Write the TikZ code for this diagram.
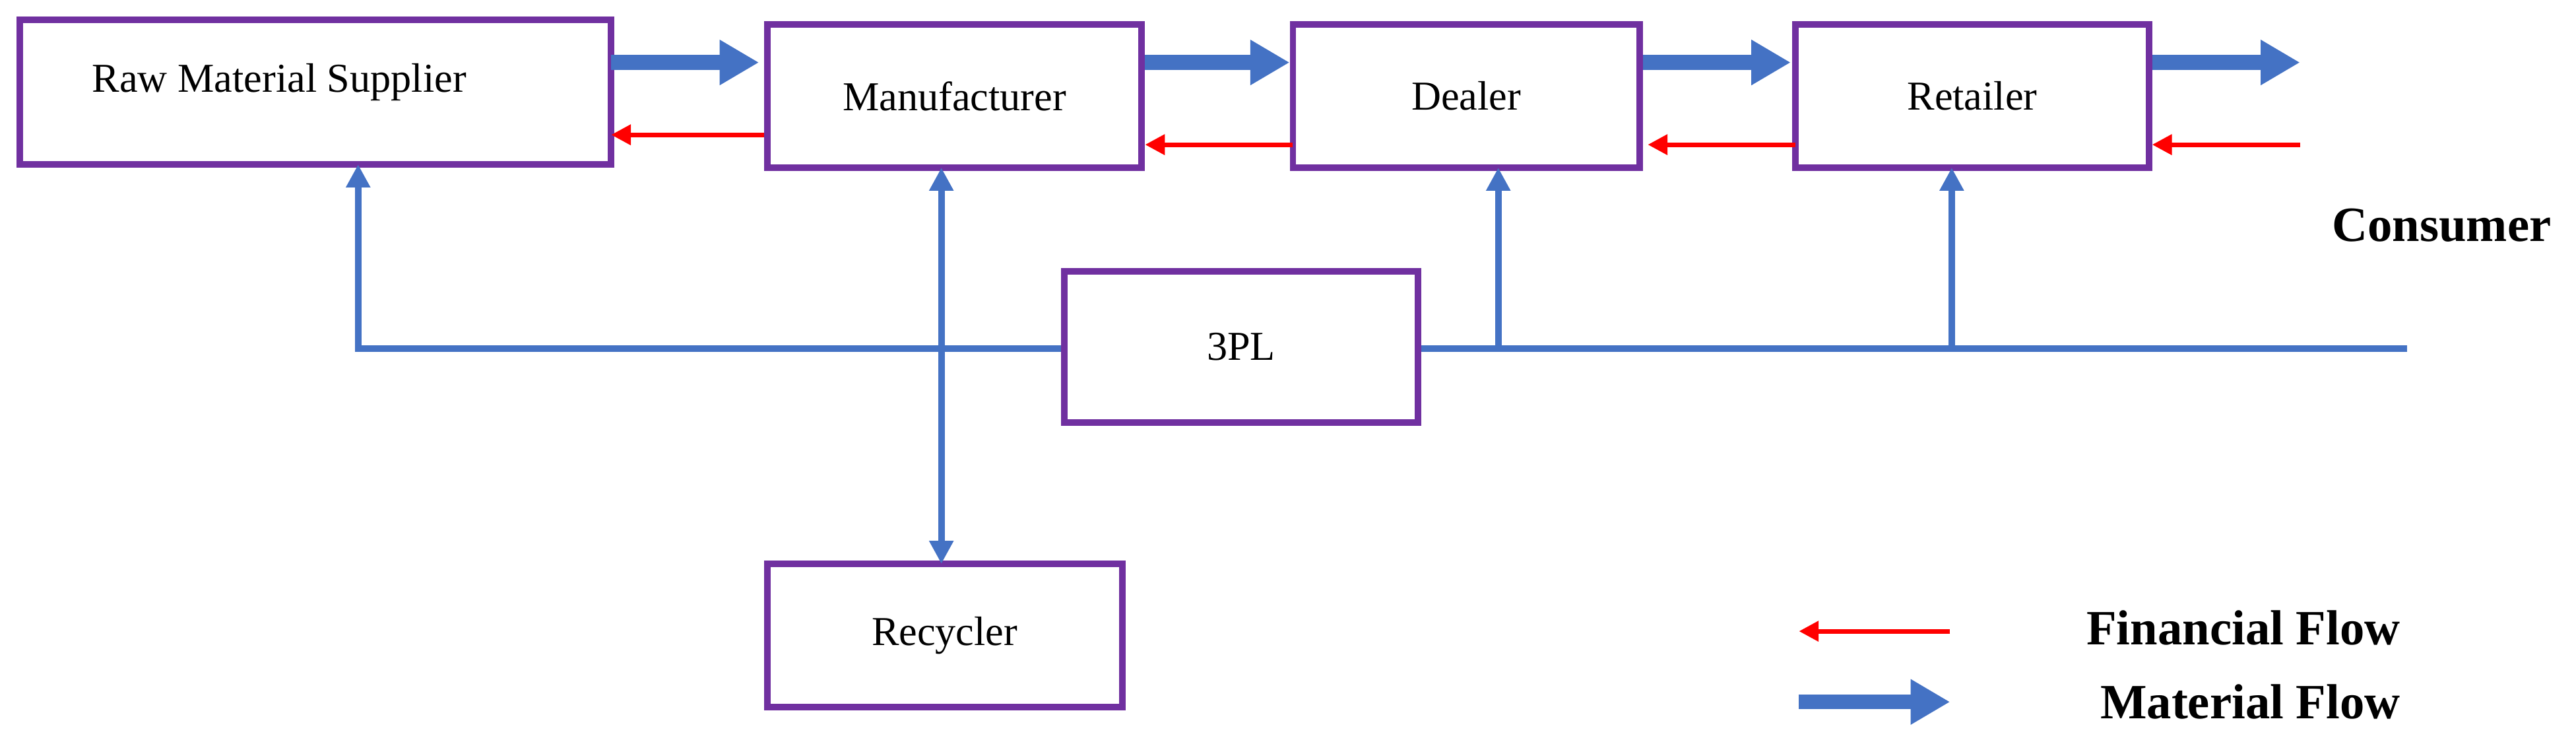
\documentclass[tikz,border=0pt]{standalone}
\usepackage{fontspec}
\setmainfont{Liberation Serif}
\usetikzlibrary{arrows.meta}
\definecolor{pur}{HTML}{7030A0}
\definecolor{blu}{HTML}{4472C4}
\definecolor{rd}{HTML}{FF0000}
\begin{document}
\begin{tikzpicture}[x=0.5pt,y=-0.5pt,
 box/.style={draw=pur,line width=2pt,minimum width=#1,inner sep=0pt},
 lbl/.style={font=\fontsize{12.5}{14}\selectfont},
 mat/.style={blu,line width=4.5pt,-{Triangle[length=12pt,width=13pt]}},
 fin/.style={rd,line width=1.4pt,-{Triangle[length=6pt,width=6pt]}},
 lin/.style={blu,line width=2pt},
 up/.style={blu,line width=2pt,-{Triangle[length=7pt,width=7pt]}}]
\useasboundingbox (0,0) rectangle (1568,456);
\node[box=180pt,minimum height=44pt] (rms) at (192,56) {};
\node[lbl] (rmst) at (170,50) {Raw Material Supplier};
\node[box=114pt,minimum height=43.5pt,lbl] (man) at (581,58.5) {Manufacturer};
\node[box=105.5pt,minimum height=43.5pt,lbl] (dea) at (892.5,58.5) {Dealer};
\node[box=107.5pt,minimum height=43.5pt,lbl] (ret) at (1200.5,58.5) {Retailer};
\node[box=107.5pt,minimum height=46pt,lbl] (tpl) at (755.5,211) {3PL};
\node[box=108pt,minimum height=43.5pt,lbl] (rec) at (575,386.5) {Recycler};
\coordinate (c1) at (1400,38); \coordinate (c2) at (1400,88);
\draw[mat] (372,38) -- (462,38);
\draw[mat] (697,38) -- (785,38);
\draw[mat] (1000,38) -- (1090,38);
\draw[mat] (1310,38) -- (c1);
\draw[fin] (465,82) -- (372,82);
\draw[fin] (787,88) -- (697,88);
\draw[fin] (1093,88) -- (1003,88);
\draw[fin] (c2) -- (1310,88);
\node[font=\fontsize{15}{17}\selectfont\bfseries,anchor=east] (con) at (1560,137) {Consumer};
\draw[up] (tpl.west|-0,212) -- (218,212) -- (218,100);
\draw[lin] (tpl.east|-0,212) -- (1465,212);
\draw[up] (912,212) -- (912,102);
\draw[up] (1188,212) -- (1188,102);
\draw[blu,line width=2pt,{Triangle[length=7pt,width=7pt]}-{Triangle[length=7pt,width=7pt]}] (573,102) -- (573,343);
\coordinate (l1) at (1187,384); \coordinate (l2) at (1095,384);
\coordinate (l3) at (1095,427); \coordinate (l4) at (1187,427);
\draw[fin] (l1) -- (l2);
\draw[mat] (l3) -- (l4);
\node[font=\fontsize{15}{17}\selectfont\bfseries,anchor=east] (ff) at (1468,382) {Financial Flow};
\node[font=\fontsize{15}{17}\selectfont\bfseries,anchor=east] (mf) at (1468,427) {Material Flow};
\end{tikzpicture}
\end{document}
